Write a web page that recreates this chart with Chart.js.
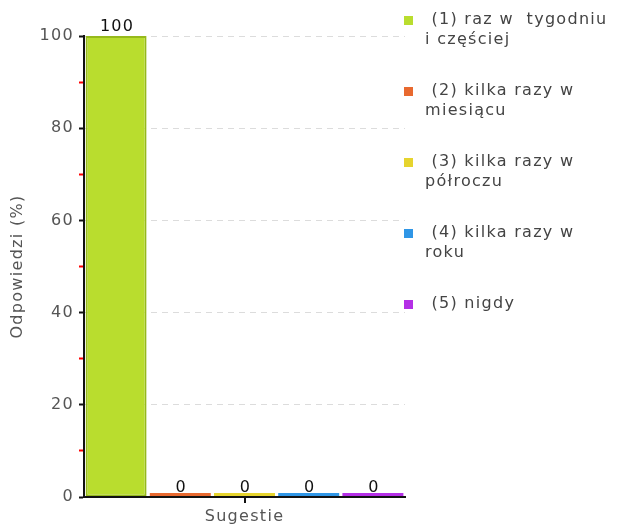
<!DOCTYPE html>
<html>
<head>
<meta charset="utf-8">
<script src="https://cdn.jsdelivr.net/npm/chart.js@4/dist/chart.umd.min.js"></script>
<style>
  html, body { margin: 0; padding: 0; background: #fff; }
  #wrap { width: 619px; height: 526px; }
</style>
</head>
<body>
<div id="wrap"><canvas id="chart"></canvas></div>
<script>
// data
const categories = ["Sugestie"];
const seriesLabels = [
  ["(1) raz w  tygodniu", "i częściej"],
  ["(2) kilka razy w", "miesiącu"],
  ["(3) kilka razy w", "półroczu"],
  ["(4) kilka razy w", "roku"],
  ["(5) nigdy"]
];
const seriesValues = [100, 0, 0, 0, 0];
const seriesColors = ["#b9dd2e", "#e8692f", "#e6d42e", "#2f96e6", "#b42fe6"];
const yMajorTicks = [0, 20, 40, 60, 80, 100];
const yMinorTicks = [10, 30, 50, 70, 90];
const yTitle = "Odpowiedzi (%)";

const FONT = { family: '"DejaVu Sans", Verdana, sans-serif', size: 16 };
const FONT_CSS = '16px "DejaVu Sans", Verdana, sans-serif';
const SPACING = "1.3px";

// the old chart had wide letter spacing, canvas can do that
const spacing = {
  id: "spacing",
  beforeUpdate(chart) { chart.ctx.letterSpacing = SPACING; },
  beforeDraw(chart) { chart.ctx.letterSpacing = SPACING; }
};

// value above each bar
const valueLabels = {
  id: "valueLabels",
  afterDatasetsDraw(chart) {
    const ctx = chart.ctx;
    const yScale = chart.scales.y;
    ctx.save();
    ctx.font = FONT_CSS;
    ctx.fillStyle = "#111";
    ctx.textAlign = "center";
    ctx.textBaseline = "alphabetic";
    chart.data.datasets.forEach((ds, i) => {
      chart.getDatasetMeta(i).data.forEach((bar, j) => {
        ctx.fillText(String(ds.data[j]), bar.x + 1, yScale.getPixelForValue(ds.data[j]) - 5);
      });
    });
    ctx.restore();
  }
};

// legend on the right, text wraps on two lines like the original
const sideLegend = {
  id: "sideLegend",
  afterDraw(chart) {
    const ctx = chart.ctx;
    const x0 = chart.chartArea.right - 1;
    let y = 20;
    ctx.save();
    ctx.font = FONT_CSS;
    ctx.textBaseline = "middle";
    ctx.textAlign = "left";
    seriesLabels.forEach((lines, i) => {
      ctx.fillStyle = seriesColors[i];
      ctx.fillRect(x0, y - 4, 9, 9);
      ctx.fillStyle = "#444";
      lines.forEach((line, k) => {
        ctx.fillText(k === 0 ? " " + line : line, x0 + 21, y + k * 20);
      });
      y += lines.length * 20 + 31;
    });
    ctx.restore();
  }
};

const datasets = seriesValues.map((v, i) => ({
  label: seriesLabels[i].join(" "),
  data: [v],
  backgroundColor: seriesColors[i],
  borderColor: i === 0 ? "#96b91b" : seriesColors[i],
  borderWidth: i === 0 ? 2 : 0,
  borderSkipped: false,
  minBarLength: 4,
  clip: 0
}));

new Chart(document.getElementById("chart"), {
  type: "bar",
  data: { labels: categories, datasets: datasets },
  options: {
    responsive: true,
    maintainAspectRatio: false,
    animation: false,
    layout: { padding: { top: 36, right: 214, left: 0, bottom: 0 } },
    datasets: { bar: { barPercentage: 0.95, categoryPercentage: 1 } },
    plugins: {
      legend: { display: false },
      tooltip: { enabled: false }
    },
    scales: {
      x: {
        grid: { drawOnChartArea: false, offset: false, tickLength: 6, color: "#111", lineWidth: 2 },
        border: { display: true, color: "#111", width: 2, z: 1 },
        ticks: { color: "#555", font: FONT, padding: 4 },
        afterFit(scale) { scale.height = 29; }
      },
      y: {
        min: 0,
        max: 100,
        afterBuildTicks(scale) {
          scale.ticks = yMajorTicks.concat(yMinorTicks).sort((a, b) => a - b).map(v => ({ value: v }));
        },
        ticks: {
          color: "#555",
          font: FONT,
          padding: 5,
          callback: v => (yMajorTicks.includes(v) ? String(v) : "")
        },
        grid: {
          color: c => (c.tick && yMajorTicks.includes(c.tick.value) && c.tick.value !== 0 ? "#dcdcdc" : "rgba(0,0,0,0)"),
          tickColor: c => (c.tick && yMajorTicks.includes(c.tick.value) ? "#111" : "#ff0000"),
          tickLength: 5,
          lineWidth: 1,
          tickWidth: 2
        },
        border: { display: true, color: "#111", width: 2, dash: [6, 5], z: 1 },
        title: { display: true, text: yTitle, color: "#555", font: FONT, padding: { top: 8, bottom: 0 } },
        afterFit(scale) { scale.width = 84; }
      }
    }
  },
  plugins: [spacing, valueLabels, sideLegend]
});
</script>
</body>
</html>
